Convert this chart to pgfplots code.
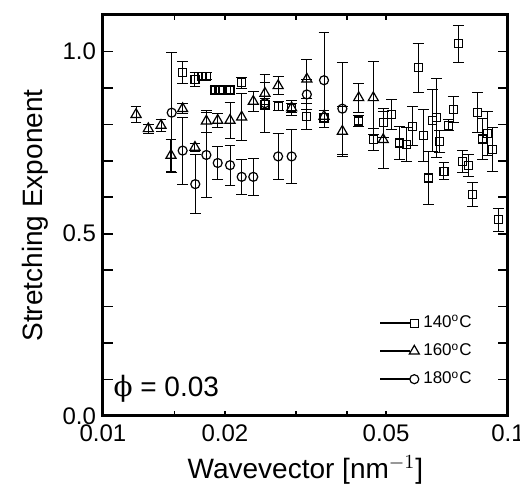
\documentclass[border=0pt]{standalone}
\usepackage{fontspec}
\setmainfont{Liberation Sans}
\newfontfamily\phifont{DejaVu Serif}
\usepackage{pgfplots}
\usepackage{pgfplotstable}
\pgfplotsset{compat=1.18}
\usetikzlibrary{calc}

% 140 C
\pgfplotstableread{
x y e
0.01573 0.943 0.030
0.01687 0.923 0.020
0.01755 0.932 0.010
0.01805 0.932 0.010
0.01890 0.894 0.010
0.01945 0.894 0.010
0.02059 0.894 0.012
0.02200 0.914 0.015
0.02511 0.855 0.015
0.02707 0.850 0.012
0.02923 0.845 0.012
0.03187 0.822 0.036
0.03514 0.818 0.012
0.04280 0.809 0.015
0.04650 0.758 0.030
0.04920 0.804 0.040
0.05160 0.827 0.040
0.05390 0.749 0.045
0.05620 0.745 0.047
0.05820 0.795 0.054
0.06000 0.955 0.068
0.06180 0.769 0.072
0.06360 0.653 0.073
0.06520 0.811 0.085
0.06670 0.818 0.108
0.06790 0.754 0.030
0.06950 0.671 0.023
0.07120 0.797 0.015
0.07330 0.841 0.036
0.07540 1.021 0.050
0.07730 0.699 0.030
0.07980 0.687 0.030
0.08180 0.607 0.033
0.08400 0.832 0.054
0.08660 0.760 0.057
0.08890 0.775 0.060
0.09170 0.731 0.061
0.09460 0.538 0.032
}\tabA

% 160 C
\pgfplotstableread{
x y e
0.01207 0.827 0.022
0.01294 0.788 0.012
0.01391 0.797 0.016
0.01472 0.715 0.043
0.01573 0.843 0.014
0.01687 0.737 0.011
0.01800 0.809 0.030
0.01920 0.811 0.020
0.02059 0.811 0.050
0.02200 0.820 0.064
0.02350 0.863 0.028
0.02511 0.885 0.030
0.02707 0.906 0.025
0.02923 0.845 0.020
0.03187 0.924 0.053
0.03514 0.822 0.015
0.03900 0.781 0.069
0.04280 0.873 0.040
0.04650 0.873 0.100
0.04920 0.758 0.078
}\tabB

% 180 C
\pgfplotstableread{
x y e
0.01478 0.832 0.165
0.01573 0.728 0.092
0.01690 0.636 0.080
0.01800 0.716 0.117
0.01920 0.694 0.044
0.02059 0.688 0.055
0.02200 0.656 0.048
0.02350 0.656 0.050
0.02511 0.858 0.080
0.02707 0.712 0.063
0.02923 0.712 0.074
0.03187 0.882 0.040
0.03514 0.921 0.130
0.03900 0.843 0.126
}\tabC

\begin{document}
\begin{tikzpicture}
\begin{axis}[
    scale only axis,
    width=202.5pt, height=200.5pt,
    xmode=log,
    xmin=0.01, xmax=0.1,
    ymin=0, ymax=1.1,
    axis line style={line width=1.5pt},
    tick align=inside,
    xtick={0.01,0.02,0.05,0.1},
    xticklabels={0.01,0.02,0.05,0.1},
    minor xtick={0.015,0.03,0.04},
    ytick={0,0.5,1.0},
    minor ytick={0.1,0.2,0.3,0.4,0.6,0.7,0.8,0.9},
    yticklabel style={/pgf/number format/.cd,fixed,fixed zerofill,precision=1},
    xticklabel style={yshift=-1pt},
    /pgf/number format/assume math mode=true,
    ticklabel style={font=\fontsize{12}{12}\selectfont},
    major tick length=5pt, minor tick length=5pt,
    xtick style={/pgfplots/major tick length=2.5pt,/pgfplots/minor tick length=2.5pt},
    tick style={black,line width=0.8pt},
    xlabel={Wavevector [nm$^{-1}$]},
    ylabel={Stretching Exponent},
    label style={font=\fontsize{14}{14}\selectfont},
    xlabel style={at={(axis description cs:0.5,-0.135)},anchor=center},
    ylabel style={at={(axis description cs:-0.168,0.5)},anchor=center},
    error bars/y dir=both,
    error bars/y explicit,
    error bars/error bar style={line width=0.5pt,black},
    error bars/error mark options={rotate=90,mark size=2.7pt,line width=0.5pt,black},
    legend style={draw=none,fill=none,inner sep=0pt,
        at={(axis description cs:0.921,0.062)},anchor=south east,
        font=\fontsize{8.5}{8.5}\selectfont,
        row sep=2.5pt},
    legend cell align=left,
    legend image code/.code={
        \draw[black,line width=0.8pt] (0pt,0pt) -- (15pt,0pt);
        \draw[#1] plot coordinates {(17pt,0pt)};
    },
]
\addplot[only marks,black,mark=square,mark size=2pt,mark options={line width=0.6pt}]
    table[x=x,y=y,y error=e] {\tabA};
\addlegendentry{140\textsuperscript{o}C}
\addplot[only marks,black,mark=triangle,mark size=2.9pt,mark options={line width=0.6pt}]
    table[x=x,y=y,y error=e] {\tabB};
\addlegendentry{160\textsuperscript{o}C}
\addplot[only marks,black,mark=o,mark size=2.25pt,mark options={line width=0.6pt}]
    table[x=x,y=y,y error=e] {\tabC};
\addlegendentry{180\textsuperscript{o}C}
\node[anchor=base west,inner sep=0pt,font=\fontsize{14}{14}\selectfont]
    at (axis description cs:0.025,0.048) {{\phifont ϕ} = 0.03};
\end{axis}
\pgfresetboundingbox
\path[use as bounding box] ($(current axis.south west)+(-51.5pt,-39.5pt)$)
    rectangle ($(current axis.north east)+(6pt,7.5pt)$);
\end{tikzpicture}
\end{document}
